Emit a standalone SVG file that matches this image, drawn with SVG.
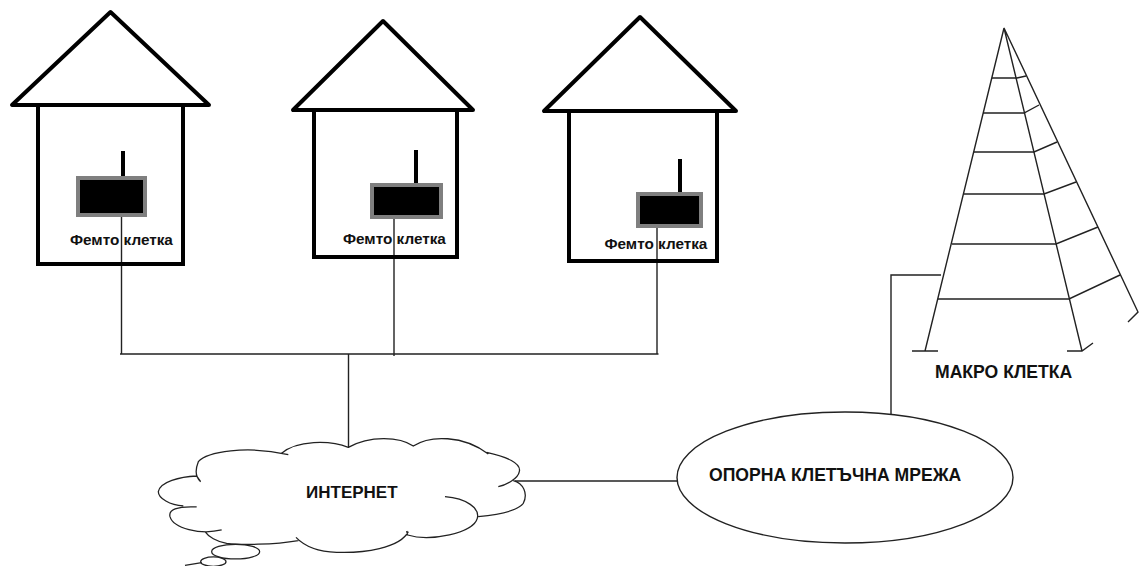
<svg xmlns="http://www.w3.org/2000/svg" width="1139" height="566" viewBox="0 0 1139 566">
<style>
.h{fill:none;stroke:#000;stroke-width:4;stroke-linejoin:miter}
.r{fill:none;stroke:#000;stroke-width:4;stroke-linejoin:round}
.d{fill:#000;stroke:#7f7f7f;stroke-width:4}
.a{stroke:#000;stroke-width:4;fill:none}
.l{fill:none;stroke:#222;stroke-width:1.4}
.t{font-family:"Liberation Sans",Arial,sans-serif;font-weight:bold;fill:#111}
.f{font-size:15.3px}
.m{font-size:17.6px}
</style>
<rect width="1139" height="566" fill="#fff"/>
<g id="connectors">
<path class="l" d="M121.500 214V354M394 217V356M657 227V354M120 354H658.500M348.500 354V447"/>
<path class="l" d="M515 481H677"/>
<path class="l" d="M941 275H891V414"/>
</g>
<g id="house1">
<path class="r" d="M110.500 12L12 105H209Z"/>
<path class="h" d="M38 105V264H183V105"/>
<line class="a" x1="123" y1="151" x2="123" y2="180"/>
<rect class="d" x="78" y="178" width="67" height="37"/>
<text class="t f" x="70" y="245">Фемто клетка</text>
</g>
<g id="house2">
<path class="r" d="M383 21L293 110H473Z"/>
<path class="h" d="M314 110V257H457V110"/>
<line class="a" x1="416" y1="150" x2="416" y2="186"/>
<rect class="d" x="372" y="185" width="69" height="32"/>
<text class="t f" x="343" y="243.500">Фемто клетка</text>
</g>
<g id="house3">
<path class="r" d="M640 17L544 111H736Z"/>
<path class="h" d="M569 113V261H717V113"/>
<line class="a" x1="680" y1="159" x2="680" y2="195"/>
<rect class="d" x="638" y="194" width="63" height="32"/>
<text class="t f" x="604.500" y="248.500">Фемто клетка</text>
</g>
<g id="tower">
<path class="l" d="M1004 28L925 351M912 351H938M1004 28L1082 351M1067 351H1082L1093 343M1004 28L1138 312L1128 322"/>
<path class="l" d="M992 78H1017L1026 76M983 113H1024L1039 105M974 152H1034L1057 142M964 194H1044L1076 182M952 244H1056L1098 227M938 299H1069L1120 275"/>
<text class="t m" x="935" y="378">МАКРО КЛЕТКА</text>
</g>
<g id="cloud">
<g transform="translate(140 420) scale(.3333)">
<path fill="none" stroke="#222" stroke-width="3.800" d="M182 185C165 170 165 150 175 125C200 95 320 75 445 104M425 100C470 60 570 60 625 82C690 45 780 50 820 78C870 45 970 45 1045 102M1040 97C1100 110 1145 130 1138 155C1135 175 1100 195 1075 200M1120 182C1150 190 1165 220 1150 250C1130 275 1070 285 1015 290M915 230C980 235 1020 265 1012 295C1000 340 870 365 803 345L800 333M805 335C780 385 670 400 590 397C530 395 490 375 468 352M475 362C400 375 300 375 260 370C230 365 205 350 195 335M245 330C180 345 100 325 90 290C85 270 110 258 170 261M130 258C90 255 55 235 55 215C60 185 120 170 170 168L182 185"/>
<ellipse cx="287" cy="395" rx="72" ry="22" fill="none" stroke="#222" stroke-width="3.800"/>
<ellipse cx="220" cy="425" rx="38" ry="14" fill="none" stroke="#222" stroke-width="3.800"/>
<path fill="none" stroke="#222" stroke-width="3.800" d="M135 436L185 428"/>
</g>
<text class="t m" x="306" y="498" style="font-size:17px">ИНТЕРНЕТ</text>
</g>
<g id="core-network">
<ellipse cx="845" cy="477.500" rx="168" ry="65.500" fill="none" stroke="#222" stroke-width="1.400"/>
<text class="t m" x="709" y="481">ОПОРНА КЛЕТЪЧНА МРЕЖА</text>
</g>
</svg>
